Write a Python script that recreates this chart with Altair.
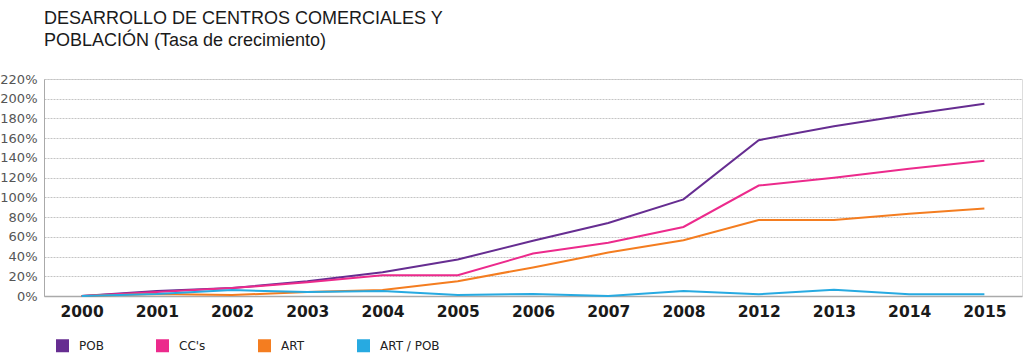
import altair as alt
import pandas as pd

years = ["2000", "2001", "2002", "2003", "2004", "2005", "2006", "2007", "2008", "2012", "2013", "2014", "2015"]
series_names = ["POB", "CC's", "ART", "ART / POB"]
colors = ["#662d91", "#ec2a8c", "#f47d20", "#27aae1"]
y_ticks = [0, 0.2, 0.4, 0.6, 0.8, 1.0, 1.2, 1.4, 1.6, 1.8, 2.0, 2.2]

pob = [0, 5, 8, 15, 24, 37, 56, 74, 98, 158, 172, 184, 195]
ccs = [0, 4, 8, 14, 21, 21, 43, 54, 70, 112, 120, 129, 137]
art = [0, 2, 1, 4, 6, 15, 29, 44, 56.5, 77, 77, 83.5, 88.6]
art_pob = [0, 2, 6, 4, 5, 1, 2, 0, 5, 1.7, 6.4, 1.7, 1.7]

rows = []
for name, vals in zip(series_names, [pob, ccs, art, art_pob]):
    for y, v in zip(years, vals):
        rows.append({"year": y, "serie": name, "value": v / 100.0})
df = pd.DataFrame(rows)

chart = alt.Chart(df).mark_line(strokeWidth=2).encode(
    x=alt.X("year:O", sort=years, title=None,
            scale=alt.Scale(type="point", padding=0.5),
            axis=alt.Axis(labelAngle=0, labelFont="DejaVu Sans", labelFontSize=15.5,
                          labelFontWeight="bold", labelColor="#1a1a1a", ticks=False,
                          domain=True, domainColor="#aaaaaa", domainWidth=1.5,
                          labelPadding=8, grid=False)),
    y=alt.Y("value:Q", title=None,
            scale=alt.Scale(domain=[0, 2.2], nice=False),
            axis=alt.Axis(format=".0%", values=y_ticks,
                          labelOverlap=False, labelBound=False, labelFlush=False,
                          labelFont="DejaVu Sans", labelFontSize=13, labelColor="#555555",
                          ticks=False, labelPadding=7, domainColor="#aaaaaa",
                          gridColor="#c4c4c4", gridDash=[2, 1], gridWidth=1)),
    color=alt.Color("serie:N", sort=series_names,
                    scale=alt.Scale(domain=series_names, range=colors),
                    legend=alt.Legend(title=None, orient="none", legendX=12, legendY=260,
                                      direction="horizontal", columns=4, gridAlign="each",
                                      columnPadding=41, symbolType="square", symbolSize=36,
                                      symbolStrokeWidth=7,
                                      labelFont="DejaVu Sans", labelFontSize=12,
                                      labelColor="#222222", labelOffset=10)),
).properties(
    width=978, height=217,
    title=alt.TitleParams(
        text=["DESARROLLO DE CENTROS COMERCIALES Y", "POBLACIÓN (Tasa de crecimiento)"],
        anchor="start", font="Liberation Sans", fontSize=18, fontWeight="normal",
        color="#1a1a1a", offset=23, lineHeight=22, frame="group"),
    autosize=alt.AutoSizeParams(type="none"),
    padding={"left": 44, "top": 79, "right": 2, "bottom": 57},
).configure_view(stroke=None).configure(background="white").configure_axis(labelOverlap=False)

chart.save("out.html", embed_options={"renderer": "svg", "actions": False})
